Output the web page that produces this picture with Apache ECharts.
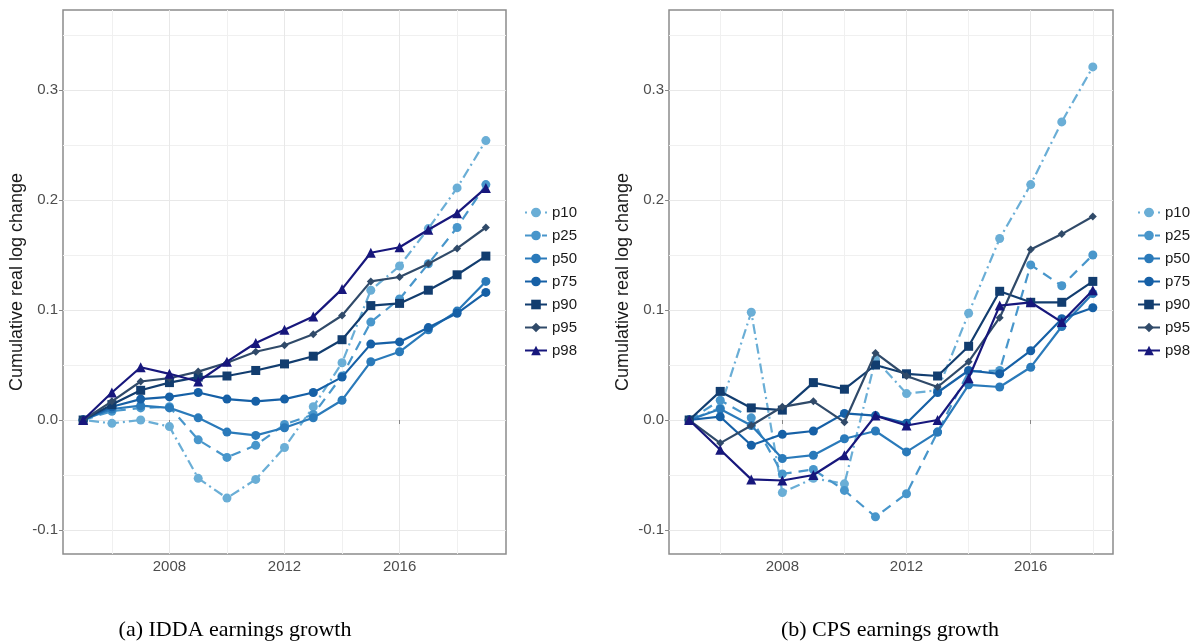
<!DOCTYPE html>
<html>
<head>
<meta charset="utf-8">
<script src="https://cdn.jsdelivr.net/npm/echarts@6/dist/echarts.min.js"></script>
<style>html,body{margin:0;padding:0;background:#fff;}#c{width:1196px;height:644px;}</style>
</head>
<body>
<div id="c"></div>
<script>
const seriesNames = ['p10','p25','p50','p75','p90','p95','p98'];
const yearsA = [2005,2006,2007,2008,2009,2010,2011,2012,2013,2014,2015,2016,2017,2018,2019];
const yearsB = [2005,2006,2007,2008,2009,2010,2011,2012,2013,2014,2015,2016,2017,2018];
const xMajorTicks = [2008, 2012, 2016];
const xMinorTicks = [2006, 2010, 2014, 2018];
const yMajorTicks = [-0.1, 0.0, 0.1, 0.2, 0.3];
const yMinorTicks = [-0.05, 0.05, 0.15, 0.25, 0.35];

// (a) IDDA
const A_p10 = [0, -0.003, 0.000, -0.006, -0.053, -0.071, -0.054, -0.025, 0.012, 0.052, 0.118, 0.140, 0.174, 0.211, 0.254];
const A_p25 = [0, 0.008, 0.011, 0.012, -0.018, -0.034, -0.023, -0.004, 0.005, 0.040, 0.089, 0.110, 0.142, 0.175, 0.214];
const A_p50 = [0, 0.010, 0.013, 0.011, 0.002, -0.011, -0.014, -0.007, 0.002, 0.018, 0.053, 0.062, 0.082, 0.099, 0.126];
const A_p75 = [0, 0.012, 0.019, 0.021, 0.025, 0.019, 0.017, 0.019, 0.025, 0.039, 0.069, 0.071, 0.084, 0.097, 0.116];
const A_p90 = [0, 0.014, 0.027, 0.034, 0.039, 0.040, 0.045, 0.051, 0.058, 0.073, 0.104, 0.106, 0.118, 0.132, 0.149];
const A_p95 = [0, 0.017, 0.035, 0.038, 0.044, 0.052, 0.062, 0.068, 0.078, 0.095, 0.126, 0.130, 0.142, 0.156, 0.175];
const A_p98 = [0, 0.025, 0.048, 0.042, 0.035, 0.053, 0.070, 0.082, 0.094, 0.119, 0.152, 0.157, 0.173, 0.188, 0.211];

// (b) CPS
const B_p10 = [0, 0.011, 0.098, -0.066, -0.053, -0.058, 0.055, 0.024, 0.027, 0.097, 0.165, 0.214, 0.271, 0.321];
const B_p25 = [0, 0.018, 0.002, -0.049, -0.045, -0.064, -0.088, -0.067, -0.011, 0.044, 0.045, 0.141, 0.122, 0.150];
const B_p50 = [0, 0.010, -0.005, -0.035, -0.032, -0.017, -0.010, -0.029, -0.011, 0.032, 0.030, 0.048, 0.085, 0.115];
const B_p75 = [0, 0.003, -0.023, -0.013, -0.010, 0.006, 0.004, -0.003, 0.025, 0.045, 0.042, 0.063, 0.092, 0.102];
const B_p90 = [0, 0.026, 0.011, 0.009, 0.034, 0.028, 0.050, 0.042, 0.040, 0.067, 0.117, 0.107, 0.107, 0.126];
const B_p95 = [0, -0.021, -0.005, 0.012, 0.017, -0.002, 0.061, 0.040, 0.030, 0.053, 0.093, 0.155, 0.169, 0.185];
const B_p98 = [0, -0.027, -0.054, -0.055, -0.050, -0.032, 0.004, -0.005, 0.000, 0.038, 0.104, 0.107, 0.089, 0.118];

const captionA = '(a) IDDA earnings growth';
const captionB = '(b) CPS earnings growth';
const yTitle = 'Cumulative real log change';

const valuesA = [A_p10, A_p25, A_p50, A_p75, A_p90, A_p95, A_p98];
const valuesB = [B_p10, B_p25, B_p50, B_p75, B_p90, B_p95, B_p98];

const styles = [
  {color:'#6aaed6', symbol:'circle', size:9, type:[2,4,10,4]},
  {color:'#4896cb', symbol:'circle', size:9, type:[10,7]},
  {color:'#2a7aba', symbol:'circle', size:9, type:'solid'},
  {color:'#1660a6', symbol:'circle', size:9, type:'solid'},
  {color:'#123d6f', symbol:'rect', size:9, type:'solid'},
  {color:'#304a69', symbol:'diamond', size:8, type:'solid'},
  {color:'#17177c', symbol:'triangle', size:10, type:'solid'}
];

const FONT = 'Liberation Sans';
const chart = echarts.init(document.getElementById('c'));

function xAxes(gridIndex, min, max) {
  return [
    {type:'value', gridIndex, min, max,
     axisLine:{show:false},
     axisTick:{show:true, length:4, lineStyle:{color:'#888', width:1}, customValues:xMajorTicks},
     axisLabel:{customValues:xMajorTicks, formatter:v=>String(v), color:'#4d4d4d', fontSize:15, fontFamily:FONT, margin:5},
     splitLine:{show:true, lineStyle:{color:'#e8e8e8', width:1}}},
    {type:'value', gridIndex, min, max, position:'bottom',
     axisLine:{show:false}, axisTick:{show:false, customValues:xMinorTicks},
     axisLabel:{show:false, customValues:xMinorTicks},
     splitLine:{show:true, lineStyle:{color:'#f0f0f0', width:1}}}
  ];
}
function yAxes(gridIndex) {
  const min = -0.1218, max = 0.3727;
  return [
    {type:'value', gridIndex, min, max,
     name: yTitle, nameLocation:'middle', nameGap:37, nameRotate:90,
     nameTextStyle:{color:'#1a1a1a', fontSize:18, fontFamily:FONT},
     axisLine:{show:false},
     axisTick:{show:true, length:4, lineStyle:{color:'#888', width:1}, customValues:yMajorTicks},
     axisLabel:{customValues:yMajorTicks, formatter:v=>v.toFixed(1), color:'#4d4d4d', fontSize:15, fontFamily:FONT, margin:5},
     splitLine:{show:true, lineStyle:{color:'#e8e8e8', width:1}}},
    {type:'value', gridIndex, min, max,
     axisLine:{show:false}, axisTick:{show:false, customValues:yMinorTicks},
     axisLabel:{show:false, customValues:yMinorTicks},
     splitLine:{show:true, lineStyle:{color:'#f0f0f0', width:1}}}
  ];
}

const series = [];
function addSeries(values, years, xIdx, yIdx) {
  values.forEach((vals, i) => {
    const s = styles[i];
    series.push({
      name: seriesNames[i], type:'line', xAxisIndex:xIdx, yAxisIndex:yIdx,
      data: years.map((yr, j) => [yr, vals[j]]),
      symbol: s.symbol, symbolSize: s.size, showSymbol:true,
      lineStyle:{color:s.color, width:2.2, type:s.type},
      itemStyle:{color:s.color},
      emphasis:{disabled:true}, animation:false, z: 2 + i
    });
  });
}
addSeries(valuesA, yearsA, 0, 0);
addSeries(valuesB, yearsB, 2, 2);

function legend(left) {
  return {orient:'vertical', left, top:200, itemWidth:22, itemHeight:12, itemGap:8,
    data: seriesNames, textStyle:{color:'#1a1a1a', fontSize:15, fontFamily:FONT}, selectedMode:false};
}

chart.setOption({
  animation:false,
  backgroundColor:'#fff',
  grid:[
    {left:63, top:10, width:443, height:544, show:true, borderColor:'#8c8c8c', borderWidth:1.5, backgroundColor:'transparent'},
    {left:669, top:10, width:444, height:544, show:true, borderColor:'#8c8c8c', borderWidth:1.5, backgroundColor:'transparent'}
  ],
  xAxis:[...xAxes(0, 2004.3, 2019.7), ...xAxes(1, 2004.35, 2018.65)],
  yAxis:[...yAxes(0), ...yAxes(1)],
  legend:[legend(519), legend(1132)],
  series,
  graphic:[
    {type:'text', style:{text:captionA, x:235, y:630, align:'center', verticalAlign:'middle', font:'22px "Liberation Serif"', fill:'#000'}},
    {type:'text', style:{text:captionB, x:890, y:630, align:'center', verticalAlign:'middle', font:'22px "Liberation Serif"', fill:'#000'}}
  ]
});
</script>
</body>
</html>
